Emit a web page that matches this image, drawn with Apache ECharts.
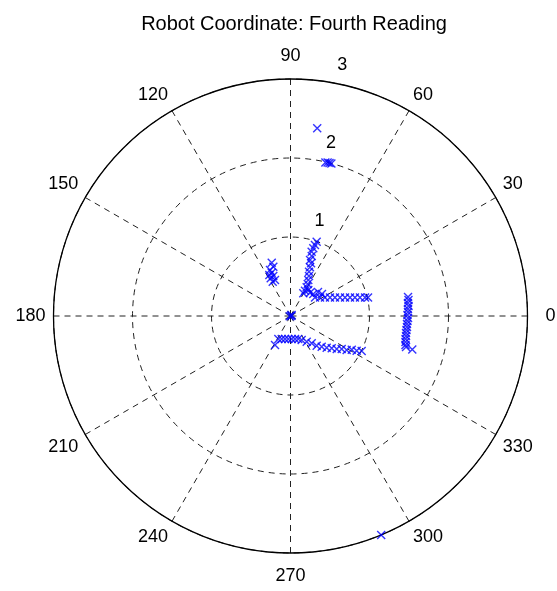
<!DOCTYPE html>
<html>
<head>
<meta charset="utf-8">
<script src="https://cdn.jsdelivr.net/npm/echarts@6/dist/echarts.min.js"></script>
<style>
html,body{margin:0;padding:0;background:#fff;}
#chart{width:557px;height:591px;}
</style>
</head>
<body>
<div id="chart"></div>
<script>
// ---- Data (each point: [radius, angle in degrees]) ----
const chartTitle = 'Robot Coordinate: Fourth Reading';
const angleTickValues = [0, 30, 60, 90, 120, 150, 180, 210, 240, 270, 300, 330];
const radiusTickLabels = [1, 2, 3];

const originCluster = [[0.01, 0], [0.02, 45], [0.01, 200]];

const leftCluster = [
  [0.715, 109.4], [0.661, 109.2], [0.638, 114.0], [0.597, 113.5], [0.584, 117.3],
  [0.551, 113.3], [0.539, 117.7], [0.496, 113.3], [0.489, 117.4]
];

const wallVertical = [
  [0.997, 70.6], [0.951, 71.0], [0.904, 71.4], [0.857, 71.8], [0.805, 70.5],
  [0.751, 70.8], [0.716, 68.7], [0.664, 68.2], [0.608, 67.3], [0.558, 65.2],
  [0.508, 63.7], [0.460, 61.7], [0.417, 60.6], [0.399, 55.6], [0.369, 60.2],
  [0.330, 60.6], [0.385, 50.1], [0.401, 44.0], [0.462, 41.1], [0.486, 34.9]
];

const wallHorizontal = [
  [0.389, 37.1], [0.441, 32.1], [0.495, 28.2], [0.552, 25.1], [0.610, 22.6],
  [0.669, 20.5], [0.729, 18.7], [0.789, 17.3], [0.849, 16.0], [0.910, 14.9],
  [0.972, 13.9], [1.009, 13.4]
];

const lowerWall = [
  [0.416, 241.9], [0.329, 242.1], [0.312, 249.1], [0.299, 256.6], [0.292, 264.5],
  [0.292, 273.0], [0.297, 281.1], [0.307, 288.7], [0.335, 295.0], [0.385, 302.2],
  [0.438, 307.8], [0.501, 311.4], [0.554, 315.5], [0.609, 318.8], [0.663, 321.9],
  [0.719, 324.5], [0.771, 327.2], [0.831, 328.8], [0.886, 331.1], [0.946, 332.3],
  [1.004, 333.8]
];

const rightWall = [
  [1.507, 9.2], [1.507, 7.7], [1.496, 6.3], [1.499, 4.8], [1.490, 3.4],
  [1.488, 1.9], [1.481, 0.5], [1.488, 359.0], [1.482, 357.6], [1.478, 356.1],
  [1.481, 354.6], [1.479, 353.1], [1.478, 351.6], [1.484, 350.2], [1.485, 348.7],
  [1.492, 347.3], [1.501, 345.8], [1.514, 345.0], [1.599, 344.6]
];

const topPoints = [
  [2.400, 81.9], [1.993, 77.2], [1.999, 76.4], [1.999, 75.7], [1.999, 75.0]
];

const rimPoint = [[3.0, 292.5]];

// ---- Chart ----
const allPoints = [].concat(originCluster, leftCluster, wallVertical, wallHorizontal,
  lowerWall, rightWall, topPoints, rimPoint);

const FONT = 'Liberation Sans';
const cx = 290.5, cy = 316, R = 237;
const radiusMax = 3;
const labelAxisMin = -0.247;

const chart = echarts.init(document.getElementById('chart'), null, {renderer: 'canvas'});

const angleLabelRich = {
  n: {fontSize: 18, fontFamily: FONT, color: '#000'},
  r: {fontSize: 18, fontFamily: FONT, color: '#000', padding: [0, 0, 0, 10]},
  t: {fontSize: 18, fontFamily: FONT, color: '#000', padding: [0, 0, 6, 0]},
  b: {fontSize: 18, fontFamily: FONT, color: '#000', padding: [6, 0, 0, 0]}
};

chart.setOption({
  animation: false,
  backgroundColor: '#fff',
  title: {
    text: chartTitle,
    left: 289,
    top: 9,
    textAlign: 'center',
    textStyle: {fontSize: 20, fontWeight: 'normal', fontFamily: FONT, color: '#000'}
  },
  polar: [
    {center: [cx, cy], radius: R},
    {center: [cx, cy], radius: R * (radiusMax - labelAxisMin) / radiusMax}
  ],
  angleAxis: [
    {
      polarIndex: 0,
      type: 'value',
      min: 0,
      max: 360,
      interval: 30,
      startAngle: 0,
      clockwise: false,
      axisLine: {show: true, lineStyle: {color: '#000', width: 1.3}},
      axisTick: {show: false},
      splitLine: {show: true, lineStyle: {color: '#222', width: 1, type: [6, 5]}},
      axisLabel: {
        show: true,
        margin: 8,
        fontSize: 18,
        fontFamily: FONT,
        color: '#000',
        formatter: function (v) {
          if (angleTickValues.indexOf(v) < 0) return '';
          if (v === 0) return '{r|' + v + '}';
          if (v === 90) return '{t|' + v + '}';
          if (v === 270) return '{b|' + v + '}';
          return '{n|' + v + '}';
        },
        rich: angleLabelRich
      }
    },
    {
      polarIndex: 1,
      type: 'value',
      min: 0,
      max: 360,
      startAngle: 81.7,
      clockwise: false,
      show: false
    }
  ],
  radiusAxis: [
    {
      polarIndex: 0,
      type: 'value',
      min: 0,
      max: radiusMax,
      interval: 1,
      axisLine: {show: false},
      axisTick: {show: false},
      axisLabel: {show: false},
      splitLine: {show: true, lineStyle: {color: '#222', width: 1, type: [6, 5]}}
    },
    {
      polarIndex: 1,
      type: 'value',
      min: labelAxisMin,
      max: radiusMax,
      axisLine: {show: false},
      axisTick: {show: false},
      splitLine: {show: false},
      axisLabel: {
        show: true,
        customValues: radiusTickLabels,
        margin: -20,
        fontSize: 18,
        fontFamily: FONT,
        color: '#000'
      }
    }
  ],
  series: [
    {
      type: 'scatter',
      coordinateSystem: 'polar',
      polarIndex: 0,
      data: allPoints,
      symbol: 'path://M0,0L10,10M10,0L0,10',
      symbolSize: 8,
      itemStyle: {color: 'rgba(0,0,0,0)', borderColor: '#0000ff', borderWidth: 1.4},
      emphasis: {disabled: true},
      silent: true
    }
  ]
});
</script>
</body>
</html>
